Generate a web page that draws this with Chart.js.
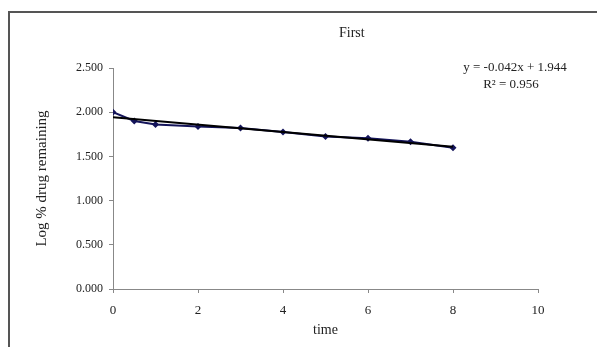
<!DOCTYPE html>
<html>
<head>
<meta charset="utf-8">
<script src="https://cdn.jsdelivr.net/npm/chart.js@4"></script>
<style>
  html, body { margin: 0; padding: 0; background: #fff; overflow: hidden; }
  #wrap { position: relative; width: 597px; height: 347px; }
  #frame { position: absolute; left: 8px; top: 11px; width: 700px; height: 400px; border: 2px solid #555; box-sizing: border-box; }
  canvas { position: absolute; left: 0; top: 0; }
</style>
</head>
<body>
<div id="wrap">
  <div id="frame"></div>
  <canvas id="c" width="597" height="347"></canvas>
</div>
<script>
// Data
const timeValues = [0, 0.5, 1, 2, 3, 4, 5, 6, 7, 8];
const logRemaining = [2.000, 1.900, 1.860, 1.838, 1.820, 1.775, 1.725, 1.705, 1.665, 1.597];
const trendX = [0, 8];
const trendY = [1.944, 1.608];
const xTicks = [0, 2, 4, 6, 8, 10];
const yTicks = [0, 0.5, 1, 1.5, 2, 2.5];
const chartTitle = 'First';
const xTitle = 'time';
const yTitle = 'Log % drug remaining';
const equationLines = ['y = -0.042x + 1.944', 'R\u00B2 = 0.956'];

const serif = "'Liberation Serif', 'Times New Roman', serif";

const textPlugin = {
  id: 'texts',
  afterDraw(chart) {
    const ctx = chart.ctx;
    const a = chart.chartArea;
    ctx.save();
    ctx.fillStyle = '#222';
    ctx.textAlign = 'center';
    ctx.textBaseline = 'middle';
    ctx.font = '14px ' + serif;
    ctx.fillText(chartTitle, a.left + (a.right - a.left) * 0.562, 33);
    ctx.font = '13px ' + serif;
    ctx.fillText(equationLines[0], a.right - 23, 68);
    ctx.fillText(equationLines[1], a.right - 27, 85);
    ctx.restore();
  }
};

new Chart(document.getElementById('c'), {
  type: 'scatter',
  data: {
    datasets: [
      {
        label: 'data',
        data: timeValues.map((t, i) => ({ x: t, y: logRemaining[i] })),
        showLine: true,
        borderColor: '#14145a',
        borderWidth: 2,
        backgroundColor: '#14145a',
        pointStyle: 'rectRot',
        pointRadius: 3.5,
        pointBorderWidth: 0,
        order: 2
      },
      {
        label: 'trend',
        data: trendX.map((t, i) => ({ x: t, y: trendY[i] })),
        showLine: true,
        borderColor: '#000',
        borderWidth: 2,
        pointRadius: 0,
        order: 1
      }
    ]
  },
  options: {
    responsive: false,
    animation: false,
    events: [],
    layout: { padding: { left: 30, right: 59, top: 68, bottom: 0 } },
    plugins: {
      legend: { display: false },
      title: { display: false },
      tooltip: { enabled: false }
    },
    scales: {
      x: {
        type: 'linear',
        min: 0, max: 10,
        afterBuildTicks: s => { s.ticks = xTicks.map(v => ({ value: v })); },
        afterFit: s => { s.height = 58; },
        ticks: { color: '#222', font: { family: serif, size: 13 }, padding: 10, maxRotation: 0 },
        grid: { drawOnChartArea: false, drawTicks: true, tickLength: 4, color: '#888' },
        border: { display: true, color: '#888', width: 1 },
        title: { display: true, text: xTitle, color: '#222', font: { family: serif, size: 14 }, padding: { top: 0, bottom: 8 } }
      },
      y: {
        type: 'linear',
        min: 0, max: 2.5,
        afterBuildTicks: s => { s.ticks = yTicks.map(v => ({ value: v })); },
        afterFit: s => { s.width = 83; },
        ticks: { color: '#222', font: { family: serif, size: 12 }, padding: 6, callback: v => Number(v).toFixed(3) },
        grid: { drawOnChartArea: false, drawTicks: true, tickLength: 4, color: '#888' },
        border: { display: true, color: '#888', width: 1 },
        title: { display: true, text: yTitle, color: '#222', font: { family: serif, size: 15 }, padding: { top: 3, bottom: 0 } }
      }
    }
  },
  plugins: [textPlugin]
});
</script>
</body>
</html>
